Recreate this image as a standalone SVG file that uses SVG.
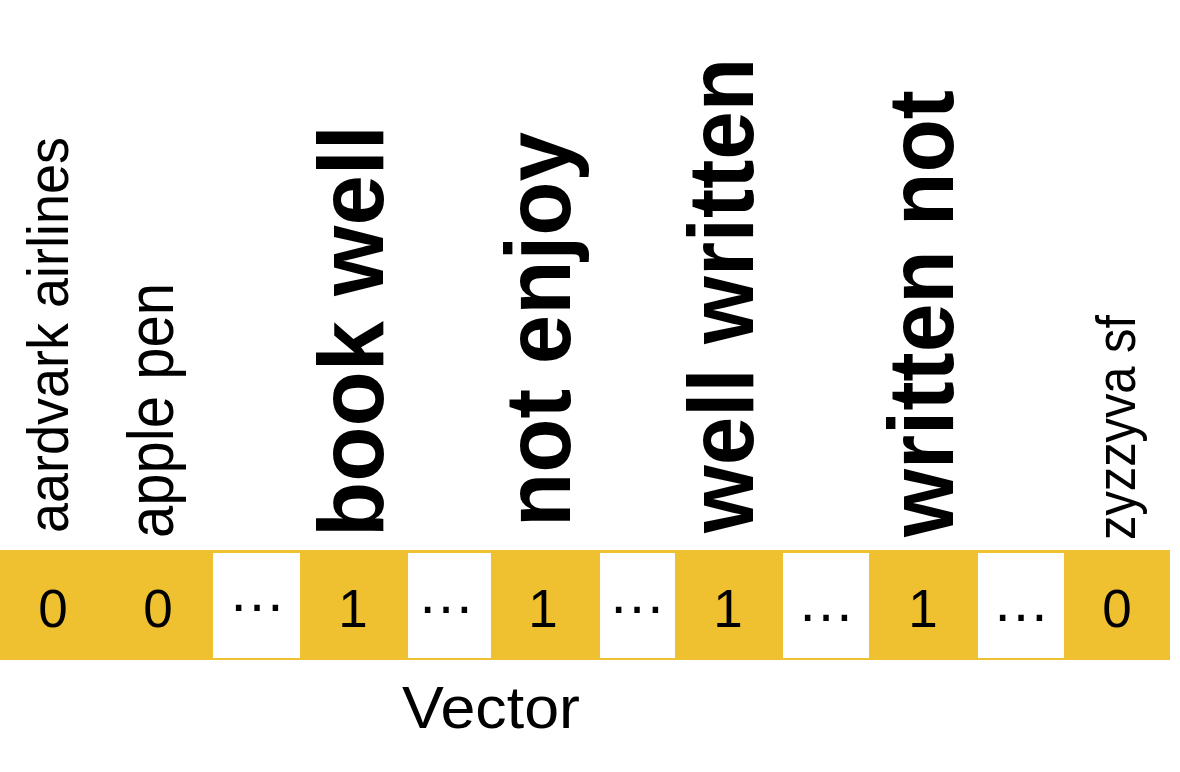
<svg xmlns="http://www.w3.org/2000/svg" width="1180" height="772" viewBox="0 0 1180 772">
<style>
.lab{font-family:"Liberation Sans",Arial,sans-serif;fill:#000}
.big{font-family:"Liberation Sans",Arial,sans-serif;font-weight:bold;fill:#000;font-size:92px}
.val{font-family:"Liberation Sans",Arial,sans-serif;font-size:53px;fill:#000;text-anchor:middle}
.dots{font-size:58px}
.bar{fill:#EFC030}
.gap{fill:#FFFFFF}
</style>
<rect width="1180" height="772" fill="#FFFFFF"/>
<g id="labels">
<text class="lab" font-size="58" transform="translate(68,533) rotate(-90)" textLength="396" lengthAdjust="spacingAndGlyphs">aardvark airlines</text>
<text class="lab" font-size="64" transform="translate(173,538) rotate(-90)" textLength="255" lengthAdjust="spacingAndGlyphs">apple pen</text>
<text class="big" font-size="96" transform="translate(383,537) rotate(-90)" textLength="412" lengthAdjust="spacingAndGlyphs">book well</text>
<text class="big" transform="translate(570,527) rotate(-90)" textLength="395" lengthAdjust="spacingAndGlyphs">not enjoy</text>
<text class="big" transform="translate(753,533) rotate(-90)" textLength="475" lengthAdjust="spacingAndGlyphs">well written</text>
<text class="big" transform="translate(953,537) rotate(-90)" textLength="447" lengthAdjust="spacingAndGlyphs">written not</text>
<text class="lab" font-size="56" transform="translate(1135,540) rotate(-90)" textLength="225" lengthAdjust="spacingAndGlyphs">zyzzyva sf</text>
</g>
<g id="vector">
<rect class="bar" x="0" y="550" width="1170" height="110"/>
<rect class="gap" x="213" y="553" width="87" height="105"/>
<rect class="gap" x="408" y="553" width="83" height="105"/>
<rect class="gap" x="600" y="553" width="75" height="105"/>
<rect class="gap" x="783" y="553" width="86" height="105"/>
<rect class="gap" x="978" y="553" width="86" height="105"/>
<text class="val" x="53" y="627">0</text>
<text class="val" x="158" y="627">0</text>
<text class="val dots" x="257" y="611">…</text>
<text class="val" x="353" y="627">1</text>
<text class="val dots" x="446" y="613">…</text>
<text class="val" x="543" y="627">1</text>
<text class="val dots" x="637" y="613">…</text>
<text class="val" x="728" y="627">1</text>
<text class="val dots" x="826" y="621">…</text>
<text class="val" x="923" y="627">1</text>
<text class="val dots" x="1021" y="621">…</text>
<text class="val" x="1117" y="627">0</text>
</g>
<g id="caption">
<text class="lab" font-size="60" x="402" y="728" textLength="178" lengthAdjust="spacingAndGlyphs">Vector</text>
</g>
<g id="connectors"></g>
</svg>
